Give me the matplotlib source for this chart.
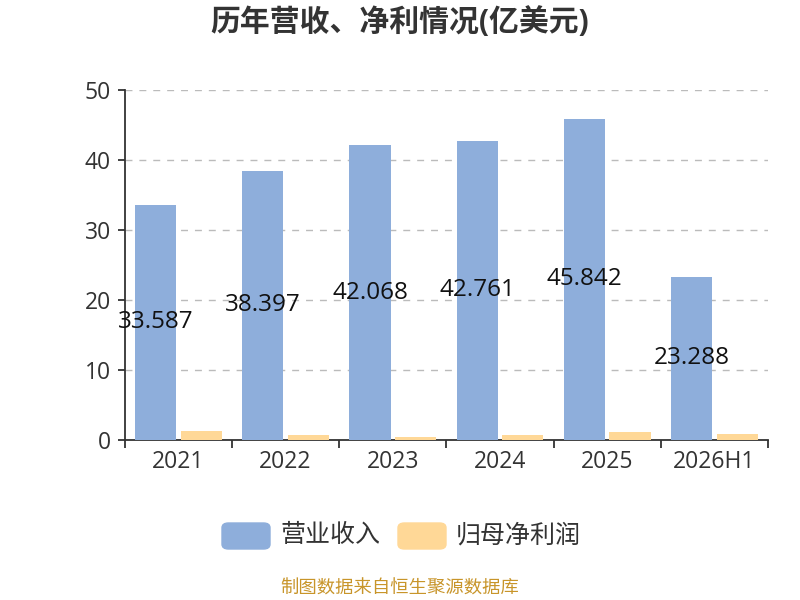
import matplotlib.pyplot as plt
import numpy as np
from matplotlib.patches import FancyBboxPatch

plt.rcParams['font.family'] = ['Open Sans', 'Noto Sans CJK SC', 'DejaVu Sans']

years = ['2021', '2022', '2023', '2024', '2025', '2026H1']
revenue = [33.587, 38.397, 42.068, 42.761, 45.842, 23.288]
profit = [1.24, 0.62, 0.43, 0.67, 1.05, 0.90]

blue = '#8eaedb'
orange = '#ffd897'

fig = plt.figure(figsize=(8, 6), dpi=100)
ax = fig.add_axes([0.156, 0.267, 0.804, 0.583])

x = np.arange(len(years))
w = 0.385
ax.bar(x - w / 2 - 0.02, revenue, width=w, color=blue, zorder=3)
ax.bar(x + w / 2 + 0.02, profit, width=w, color=orange, zorder=3)

for xi, v in zip(x, revenue):
    ax.text(xi - w / 2 - 0.02, v / 2, '%.3f' % v, ha='center', va='center',
            fontsize=17.5, color='#111111', zorder=4)

ax.set_xlim(-0.5, len(years) - 0.5)
ax.set_ylim(0, 50)
ax.set_yticks([0, 10, 20, 30, 40, 50])
ax.set_xticks(x)
ax.set_xticklabels(years)
ax.set_xticks(np.arange(-0.5, len(years)), minor=True)
ax.tick_params(axis='x', which='major', length=0, labelsize=16.5, colors='#333333', pad=7)
ax.tick_params(axis='x', which='minor', length=6, width=1.3, color='#333333')
ax.tick_params(axis='y', length=5, width=1.3, color='#333333', labelsize=16.5,
               labelcolor='#333333', pad=5)
ax.grid(axis='y', linestyle=(0, (5, 5)), color='#bbbbbb', linewidth=1, zorder=0)
for s in ['top', 'right']:
    ax.spines[s].set_visible(False)
ax.spines['left'].set_color('#333333')
ax.spines['bottom'].set_color('#333333')
ax.spines['left'].set_linewidth(1.3)
ax.spines['bottom'].set_linewidth(1.3)

fig.text(0.5, 0.962, '历年营收、净利情况(亿美元)', ha='center', va='center',
         fontsize=21.5, fontweight='bold', color='#333333')

# legend
for (lx, col, lab) in [(222, blue, '营业收入'), (398, orange, '归母净利润')]:
    patch = FancyBboxPatch((lx / 800, 1 - 549 / 600), 48 / 800, 26 / 600,
                           boxstyle='round,pad=0,rounding_size=0.008',
                           transform=fig.transFigure, color=col)
    fig.patches.append(patch)
    fig.text((lx + 58) / 800, 1 - 536 / 600, lab, ha='left', va='center',
             fontsize=18, color='#333333')

fig.text(0.5, 1 - 589 / 600, '制图数据来自恒生聚源数据库', ha='center', va='center',
         fontsize=13.2, color='#c8952a')

fig.savefig('out.png', dpi=100)
